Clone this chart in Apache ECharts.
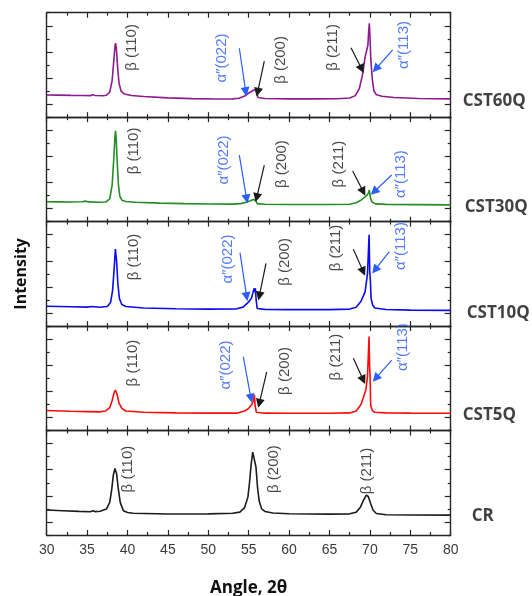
<!DOCTYPE html>
<html><head><meta charset="utf-8">
<script src="https://cdn.jsdelivr.net/npm/echarts@6/dist/echarts.min.js"></script>
<style>html,body{margin:0;padding:0;background:#fff}#c{width:532px;height:596px}</style>
</head><body><div id="c"></div>
<script>
// ---------- data ----------
const sampleNames = ['CST60Q', 'CST30Q', 'CST10Q', 'CST5Q', 'CR'];
const angleRange = [30, 80];
const intensityRange = [0, 8];

const cst60q = [
  [30,1.70],[31.5,1.69],[33,1.67],[34.5,1.66],[35.4,1.65],[35.7,1.71],[36.0,1.66],[37.0,1.64],[37.4,1.68],[37.8,1.92],
  [38.1,2.8],[38.3,4.3],[38.45,5.4],[38.52,5.66],[38.62,5.3],[38.78,3.8],[38.95,2.6],[39.2,2.0],[39.6,1.78],[40.5,1.66],
  [42,1.58],[45,1.48],[48,1.42],[51,1.39],[53,1.40],[53.8,1.45],[54.5,1.62],[55.0,1.85],[55.5,2.02],[55.85,2.14],
  [55.95,1.9],[56.15,1.5],[57,1.43],[60,1.40],[63,1.40],[66,1.41],[67.5,1.47],[68.2,1.65],[68.7,2.2],[69.1,3.3],
  [69.4,4.6],[69.6,5.1],[69.75,5.5],[69.85,6.6],[69.93,7.19],[70.02,6.0],[70.1,4.6],[70.18,3.87],[70.3,2.9],[70.5,2.0],
  [70.8,1.72],[71.5,1.6],[73,1.5],[76,1.43],[80,1.40]
];
const cst30q = [
  [30,1.52],[31.5,1.51],[33,1.50],[34.4,1.52],[34.8,1.57],[35.2,1.51],[36.5,1.48],[37.3,1.50],[37.8,1.75],[38.1,2.8],
  [38.3,4.8],[38.45,6.5],[38.52,6.96],[38.6,6.4],[38.72,4.6],[38.88,2.8],[39.05,1.95],[39.3,1.64],[39.8,1.54],[41,1.48],
  [44,1.42],[47,1.38],[50,1.35],[53,1.34],[54,1.38],[54.7,1.48],[55.2,1.60],[55.6,1.70],[55.78,1.84],[55.88,1.60],
  [56.05,1.38],[57,1.33],[60,1.31],[65,1.31],[67.5,1.33],[68.3,1.44],[68.9,1.65],[69.4,1.90],[69.7,2.06],[69.85,2.25],
  [69.93,2.42],[70.02,2.0],[70.12,1.7],[70.3,1.48],[70.7,1.36],[72,1.32],[76,1.30],[80,1.28]
];
const cst10q = [
  [30,1.52],[33,1.48],[35,1.45],[35.6,1.50],[36.5,1.44],[37.5,1.50],[37.9,1.80],[38.15,2.7],[38.35,4.4],[38.5,5.9],
  [38.65,5.0],[38.8,3.3],[39.0,2.1],[39.3,1.65],[39.8,1.50],[42,1.38],[46,1.33],[50,1.30],[53.5,1.32],[54.3,1.45],
  [55.0,1.85],[55.35,2.15],[55.55,2.6],[55.65,2.88],[55.72,2.6],[55.82,2.9],[55.92,2.0],[56.05,1.35],[57,1.28],[60,1.26],
  [65,1.26],[67.5,1.30],[68.3,1.45],[68.9,1.90],[69.4,2.62],[69.7,4.0],[69.82,5.8],[69.9,7.0],[69.98,4.2],[70.05,3.6],
  [70.15,2.1],[70.35,1.6],[70.6,1.38],[72,1.27],[75,1.22],[80,1.20]
];
const cst5q = [
  [30,1.53],[33,1.48],[35,1.45],[36.5,1.43],[37.3,1.50],[37.8,1.75],[38.1,2.3],[38.35,2.9],[38.5,3.1],[38.7,2.8],
  [38.95,2.1],[39.3,1.70],[39.8,1.50],[42,1.40],[46,1.35],[50,1.33],[53.5,1.33],[54.5,1.50],[55.0,1.70],[55.37,1.97],
  [55.6,2.3],[55.7,2.74],[55.8,1.9],[55.95,1.40],[57,1.33],[60,1.32],[65,1.32],[67.5,1.35],[68.3,1.50],[68.9,2.0],
  [69.5,3.1],[69.7,4.15],[69.82,6.0],[69.89,7.2],[69.96,5.0],[70.02,4.15],[70.1,1.9],[70.3,1.55],[70.6,1.40],[72,1.35],
  [75,1.33],[80,1.32]
];
const cr = [
  [30,1.91],[32,1.86],[34,1.81],[35.4,1.78],[35.7,1.85],[36.0,1.79],[36.6,1.82],[37.4,2.0],[37.8,2.5],[38.05,3.5],
  [38.25,4.6],[38.45,5.1],[38.65,4.7],[38.85,3.6],[39.1,2.5],[39.5,1.85],[40.0,1.72],[40.7,1.66],[45,1.61],[50,1.62],
  [53.0,1.66],[53.9,1.75],[54.5,2.1],[54.9,2.9],[55.1,4.0],[55.3,5.4],[55.5,6.35],[55.7,6.2],[55.9,5.2],[56.1,3.6],
  [56.3,2.6],[56.6,2.0],[57.0,1.8],[58,1.68],[60,1.63],[65,1.60],[67.5,1.62],[68.3,1.75],[68.8,2.1],[69.2,2.65],
  [69.55,3.06],[69.8,2.95],[70.1,2.4],[70.4,1.9],[70.8,1.65],[72,1.55],[75,1.53],[80,1.52]
];
const patterns = [cst60q, cst30q, cst10q, cst5q, cr];

// sample-name level (intensity units) at right of each panel
const sampleLabelLevel = [1.2, 1.13, 1.0, 1.2, 1.46];

// peak annotations: [angle, intensity, text, kind]  kind: 'b' = beta (black), 'a' = alpha'' (blue)
const peakLabels = [
  [[40.52,5.34,'β (110)','b'],[51.66,4.53,'α″(022)','a'],[59.0,4.38,'β (200)','b'],[65.43,5.34,'β (211)','b'],[74.22,5.53,'α″(113)','a']],
  [[40.80,5.41,'β (110)','b'],[51.91,4.72,'α″(022)','a'],[59.12,4.41,'β (200)','b'],[66.18,4.41,'β (211)','b'],[73.85,3.64,'α″(113)','a']],
  [[40.80,5.29,'β (110)','b'],[52.38,5.14,'α″(022)','a'],[59.49,4.91,'β (200)','b'],[65.74,5.98,'β (211)','b'],[73.79,6.13,'α″(113)','a']],
  [[40.68,5.17,'β (110)','b'],[52.19,5.02,'α″(022)','a'],[59.49,4.56,'β (200)','b'],[65.74,5.63,'β (211)','b'],[74.03,6.39,'α″(113)','a']],
  [[40.06,5.05,'β (110)','b'],[58.13,5.05,'β (200)','b'],[69.64,4.90,'β (211)','b']]
];
// arrows: [fromAngle, fromIntensity, toAngle, toIntensity, kind]
const peakArrows = [
  [[53.84,5.28,54.63,1.95,'a'],[56.93,4.30,56.11,1.91,'b'],[67.66,5.32,68.99,3.69,'b'],[72.82,5.15,70.72,3.69,'a']],
  [[53.84,5.10,54.75,1.73,'a'],[56.93,4.33,55.99,1.83,'b'],[67.87,3.87,69.18,2.29,'b'],[72.70,3.57,70.51,2.29,'a']],
  [[53.92,5.62,54.75,2.25,'a'],[57.14,4.81,56.31,2.30,'b'],[67.95,5.88,69.18,4.17,'b'],[72.40,5.70,70.63,4.30,'a']],
  [[54.33,5.65,55.28,2.47,'a'],[57.23,4.50,56.31,2.08,'b'],[67.95,5.53,69.18,3.87,'b'],[72.70,5.40,70.72,4.00,'a']],
  []
];

// ---------- styles ----------
const lineColors = ['#8E1A8E', '#248C24', '#0B0BF2', '#FF0B0B', '#1C1C1C'];
const kindColor = { a: '#2A5EFF', b: '#1A1A1A' };
const nameGapRight = [12, 14, 16, 12, 21];
const frame = '#262626';
const gridLeft = 46.7, gridRight = 81.3, gridTop0 = 12.7, gridH = 104.46;

const chart = echarts.init(document.getElementById('c'), null, { renderer: 'canvas' });
const grids = [], xAxes = [], yAxes = [], series = [];

patterns.forEach((data, i) => {
  grids.push({ left: gridLeft, right: gridRight, top: gridTop0 + i * gridH, height: gridH, outerBoundsMode: 'none', containLabel: false });
  const isLast = i === patterns.length - 1;
  ['bottom', 'top'].forEach(pos => {
    xAxes.push({
      type: 'value', gridIndex: i, position: pos, min: angleRange[0], max: angleRange[1], interval: 5,
      axisLine: { show: true, onZero: false, lineStyle: { color: frame, width: 1.4 } },
      axisTick: { show: true, inside: true, length: 5, lineStyle: { color: frame, width: 1.2 } },
      minorTick: { show: true, splitNumber: 2, length: 3, lineStyle: { color: frame, width: 1.2 } },
      axisLabel: { show: isLast && pos === 'bottom', color: '#3a3a3a', fontSize: 14, fontFamily: 'Liberation Sans', margin: 8 },
      splitLine: { show: false },
      name: (isLast && pos === 'bottom') ? 'Angle, 2θ' : '',
      nameLocation: 'middle', nameGap: 45,
      nameTextStyle: { fontFamily: 'Open Sans', fontWeight: 'bold', fontSize: 17, color: '#111' }
    });
  });
  ['left', 'right'].forEach(pos => {
    yAxes.push({
      type: 'value', gridIndex: i, position: pos, min: intensityRange[0], max: intensityRange[1], interval: 2,
      axisLine: { show: true, onZero: false, lineStyle: { color: frame, width: 1.4 } },
      axisTick: { show: true, inside: true, length: 3, lineStyle: { color: frame, width: 1.2 } },
      minorTick: { show: true, splitNumber: 2, length: 6, lineStyle: { color: frame, width: 1.2 } },
      axisLabel: { show: false }, splitLine: { show: false },
      name: (i === 2 && pos === 'left') ? 'Intensity' : '',
      nameLocation: 'middle', nameGap: 17, nameRotate: 90,
      nameTextStyle: { fontFamily: 'Open Sans', fontWeight: 'bold', fontSize: 16, color: '#111' }
    });
  });

  // diffraction pattern
  series.push({
    type: 'line', xAxisIndex: 2 * i, yAxisIndex: 2 * i, data: data, showSymbol: false, symbol: 'none',
    lineStyle: { color: lineColors[i], width: 1.6 }, animation: false, silent: true, z: 3,
    markLine: peakArrows[i].length ? {
      silent: true, animation: false, symbol: ['none', 'triangle'], symbolSize: 9,
      label: { show: false },
      data: peakArrows[i].map(a => [
        { coord: [a[0], a[1]], lineStyle: { color: kindColor[a[4]], width: 1.2, type: 'solid' }, itemStyle: { color: kindColor[a[4]] } },
        { coord: [a[2], a[3]], itemStyle: { color: kindColor[a[4]] } }
      ])
    } : undefined
  });

  // peak labels (rotated text)
  series.push({
    type: 'scatter', xAxisIndex: 2 * i, yAxisIndex: 2 * i, symbolSize: 0, animation: false, silent: true, z: 4,
    data: peakLabels[i].map(p => ({
      value: [p[0], p[1]],
      label: {
        show: true, formatter: p[2], rotate: 90, position: 'inside', align: 'center', verticalAlign: 'middle',
        color: kindColor[p[3]], fontSize: 15, fontFamily: 'Liberation Sans'
      }
    }))
  });

  // sample name at right
  series.push({
    type: 'scatter', xAxisIndex: 2 * i, yAxisIndex: 2 * i, symbolSize: 0, animation: false, silent: true, z: 4,
    data: [{ value: [angleRange[1], sampleLabelLevel[i]] }],
    label: {
      show: true, formatter: sampleNames[i], position: 'right', distance: nameGapRight[i],
      color: '#111', fontSize: 17, fontWeight: 'bold', fontFamily: 'Open Sans'
    }
  });
});

chart.setOption({
  backgroundColor: '#fff', animation: false,
  grid: grids, xAxis: xAxes, yAxis: yAxes, series: series
});
</script></body></html>
